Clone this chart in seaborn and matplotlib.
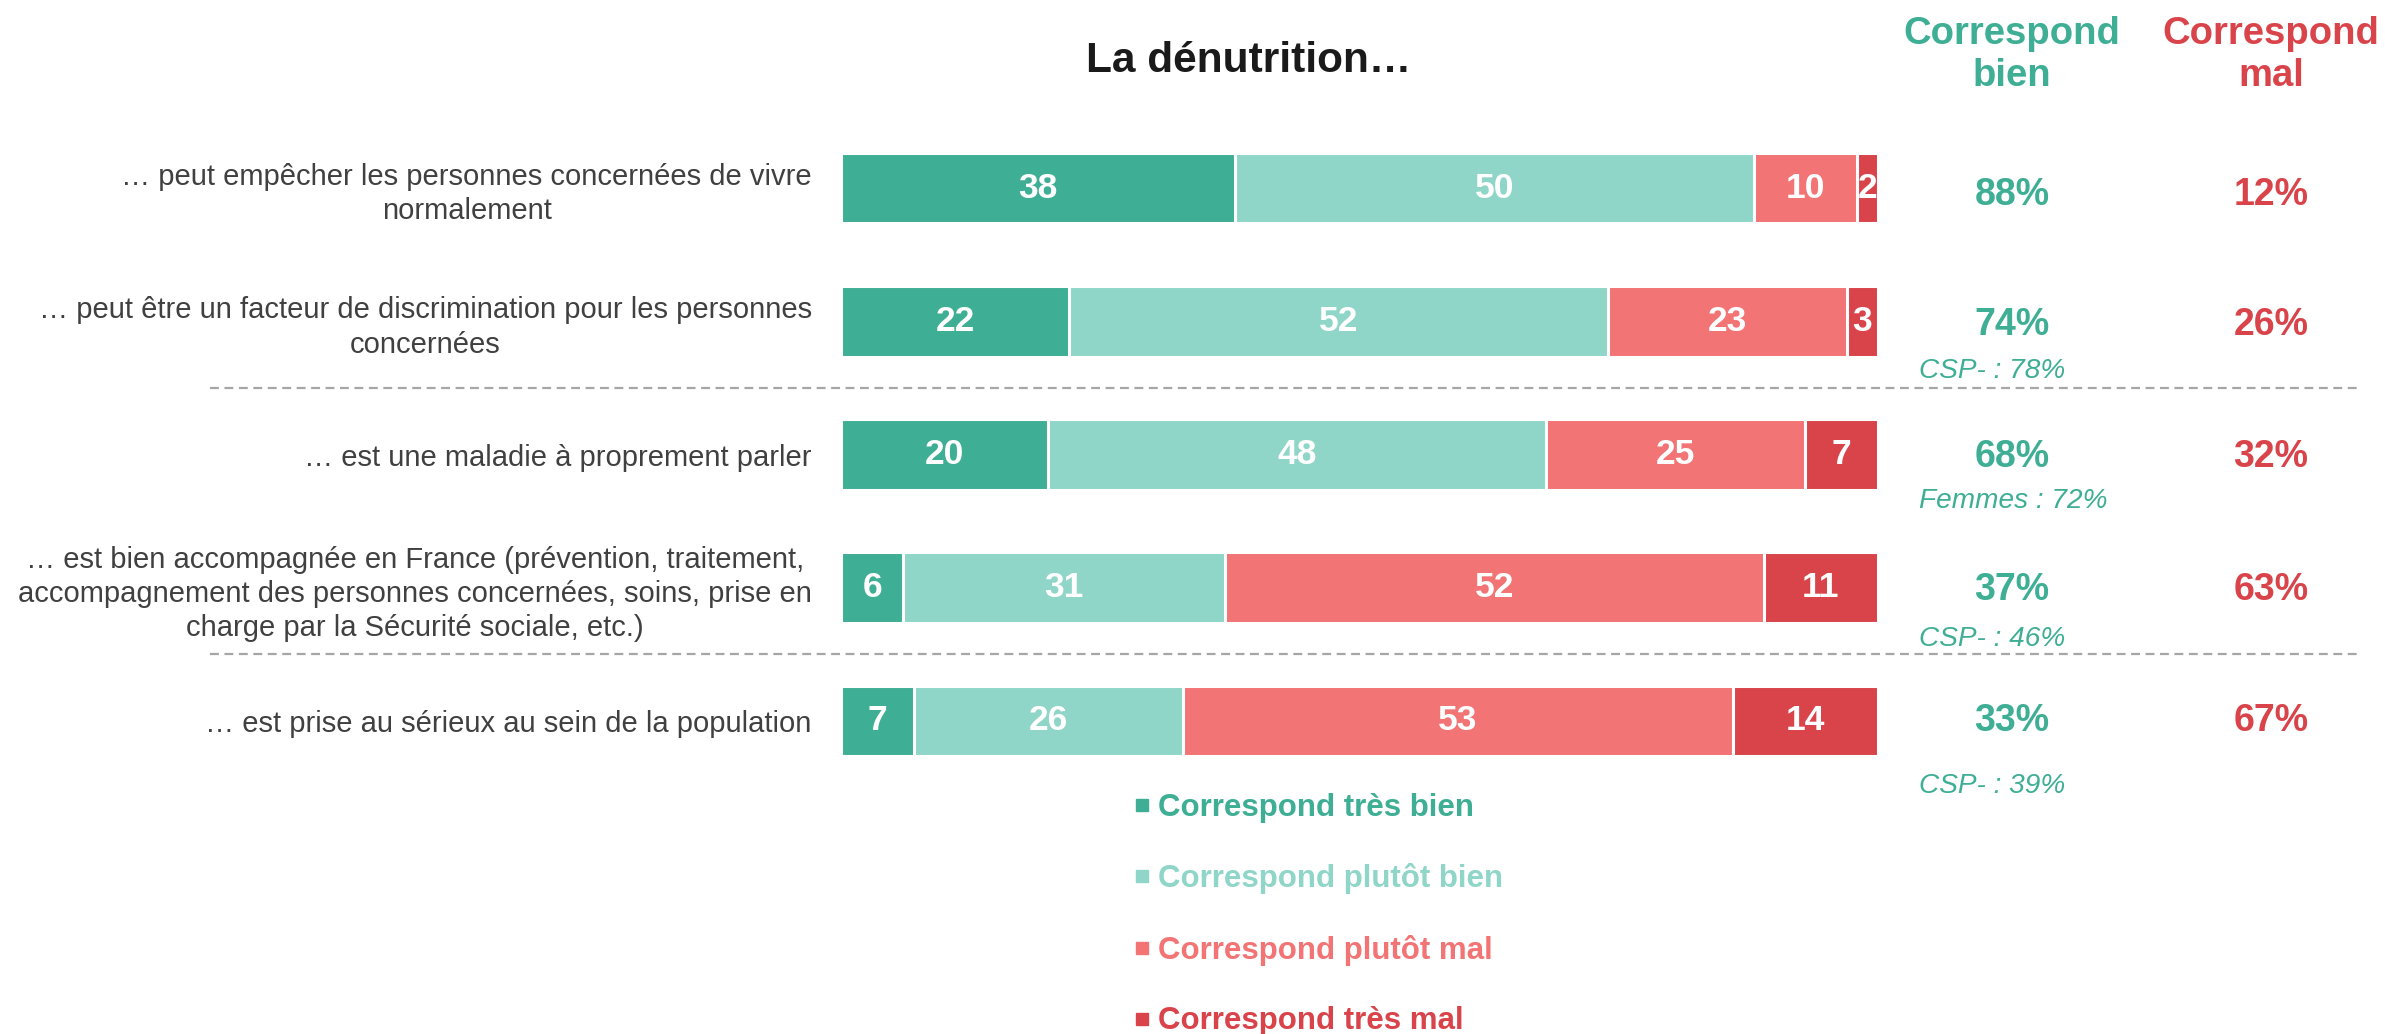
import matplotlib
matplotlib.use("Agg")
import matplotlib.pyplot as plt
import seaborn as sns
import pandas as pd
import numpy as np
from matplotlib.lines import Line2D

# ---------------- data ----------------
categories = [
    "… peut empêcher les personnes concernées de vivre\nnormalement",
    "… peut être un facteur de discrimination pour les personnes\nconcernées",
    "… est une maladie à proprement parler",
    "… est bien accompagnée en France (prévention, traitement,\naccompagnement des personnes concernées, soins, prise en\ncharge par la Sécurité sociale, etc.)",
    "… est prise au sérieux au sein de la population",
]
series_names = ["Correspond très bien", "Correspond plutôt bien",
                "Correspond plutôt mal", "Correspond très mal"]
tres_bien = [38, 22, 20, 6, 7]
plutot_bien = [50, 52, 48, 31, 26]
plutot_mal = [10, 23, 25, 52, 53]
tres_mal = [2, 3, 7, 11, 14]
total_bien = ["88%", "74%", "68%", "37%", "33%"]
total_mal = ["12%", "26%", "32%", "63%", "67%"]
subnotes = ["", "CSP- : 78%", "Femmes : 72%", "CSP- : 46%", "CSP- : 39%"]
title = "La dénutrition…"
header_bien = "Correspond\nbien"
header_mal = "Correspond\nmal"

# ---------------- style ----------------
colors = ["#3EAE95", "#8FD6C8", "#F27475", "#D9444B"]
GREEN, RED = "#3EAE95", "#D9444B"
TXT = "#404040"

sns.set_theme(style="white")
plt.rcParams["font.family"] = ["Liberation Sans", "DejaVu Sans"]

W, H = 2385, 1034
fig = plt.figure(figsize=(W / 100, H / 100), dpi=100)

def fx(px):
    return px / W

def fy(py):
    return 1 - py / H

# bars axes: x 0..100 -> px 841..1878 ; rows centred at 188 + i*133.25
row_pitch = 133.25
top_c = 188
ax_left, ax_right = 841, 1878
ax_top = top_c - row_pitch / 2
ax_bot = top_c + 4 * row_pitch + row_pitch / 2
ax = fig.add_axes([fx(ax_left), fy(ax_bot), fx(ax_right - ax_left), (ax_bot - ax_top) / H])

series = [tres_bien, plutot_bien, plutot_mal, tres_mal]
df = pd.DataFrame({"cat": categories})
for name, vals in zip(series_names, series):
    df[name] = vals
cum = df[series_names].cumsum(axis=1)

bar_h = 0.53
for k in range(len(series_names) - 1, -1, -1):
    sns.barplot(x=cum[series_names[k]], y=df["cat"], order=categories, orient="h",
                color=colors[k], width=bar_h, edgecolor="white", linewidth=2.2,
                saturation=1, ax=ax)

# segment labels
for i in range(len(categories)):
    left = 0
    for k, name in enumerate(series_names):
        v = df.loc[i, name]
        ax.text(left + v / 2, i, f"{v}", ha="center", va="center", color="white",
                fontsize=25.5, fontweight="bold")
        left += v

ax.set_xlim(0, 100)
ax.set_ylim(4.5, -0.5)
ax.set_xlabel("")
ax.set_ylabel("")
ax.set_xticks([])
for s in ax.spines.values():
    s.set_visible(False)
ax.tick_params(axis="y", length=0, pad=21)
ax.set_yticks(range(len(categories)))
ax.set_yticklabels(categories, fontsize=21, color=TXT, multialignment="center",
                   linespacing=1.29)

# dashed separators
x_px0, x_px1 = 210, 2362
xd0 = (x_px0 - ax_left) / (ax_right - ax_left) * 100
xd1 = (x_px1 - ax_left) / (ax_right - ax_left) * 100
for yy in (1.5, 3.5):
    ax.plot([xd0, xd1], [yy, yy], ls=(0, (4, 2.5)), color="#A6A6A6", lw=1.6, clip_on=False)

# right columns
xb = (2012 - ax_left) / (ax_right - ax_left) * 100
xm = (2271 - ax_left) / (ax_right - ax_left) * 100
xs = (1919 - ax_left) / (ax_right - ax_left) * 100
sub_off = [0, 0.37, 0.35, 0.385, 0.49]
pct_off = [0.05, 0.03, 0.02, 0.02, 0.0]
for i in range(len(categories)):
    ax.text(xb, i + pct_off[i], total_bien[i], ha="center", va="center", color=GREEN,
            fontsize=27, fontweight="bold", clip_on=False)
    ax.text(xm, i + pct_off[i], total_mal[i], ha="center", va="center", color=RED,
            fontsize=27, fontweight="bold", clip_on=False)
    if subnotes[i]:
        ax.text(xs, i + sub_off[i], subnotes[i], ha="left", va="center", color=GREEN,
                fontsize=20.2, fontstyle="italic", clip_on=False)

# headers and title
fig.text(fx(2012), fy(55), header_bien, ha="center", va="center", color=GREEN,
         fontsize=27.5, fontweight="bold", linespacing=1.24)
fig.text(fx(2271), fy(55), header_mal, ha="center", va="center", color=RED,
         fontsize=27.5, fontweight="bold", linespacing=1.24)
fig.text(fx(1249), fy(61), title, ha="center", va="center", color="#1A1A1A",
         fontsize=30.5, fontweight="bold")

# legend
handles = [Line2D([], [], marker="s", ls="none", color=c, markersize=9) for c in colors]
leg = fig.legend(handles, series_names, loc="upper left",
                 bbox_to_anchor=(fx(1117), fy(777)), frameon=False,
                 fontsize=22.5, labelcolor=colors, handlelength=0.6,
                 handletextpad=0.2, labelspacing=1.3, borderpad=0)
for t in leg.get_texts():
    t.set_fontweight("bold")

fig.savefig("out.png", dpi=100, facecolor="white")
